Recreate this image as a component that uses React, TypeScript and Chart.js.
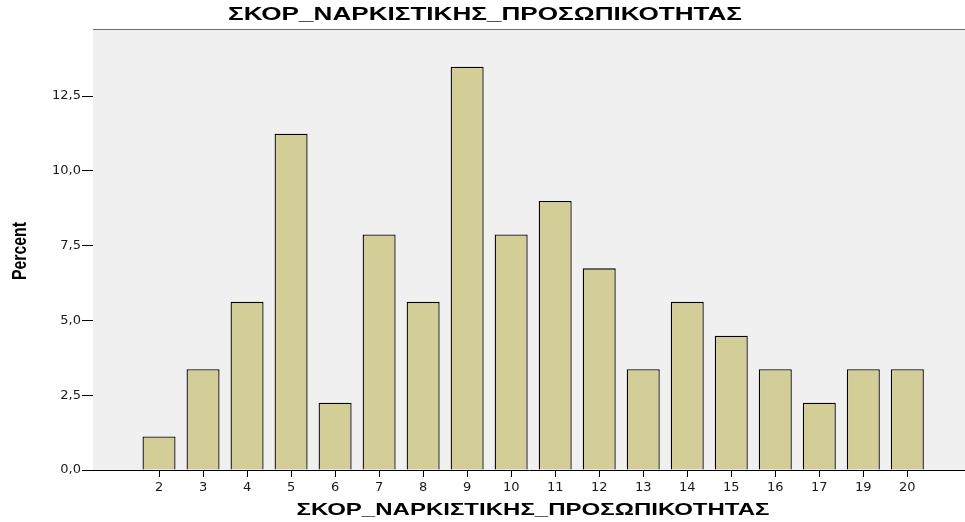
import React, { useEffect, useRef } from "react";
import { Chart, registerables } from "chart.js";

Chart.register(...registerables);

const categories = ["2", "3", "4", "5", "6", "7", "8", "9", "10", "11", "12", "13", "14", "15", "16", "17", "19", "20"];
const percentValues = [1.12, 3.37, 5.62, 11.24, 2.25, 7.87, 5.62, 13.48, 7.87, 8.99, 6.74, 3.37, 5.62, 4.49, 3.37, 2.25, 3.37, 3.37];
const yTicks = [0, 2.5, 5, 7.5, 10, 12.5];
const titleText = "ΣΚΟΡ_ΝΑΡΚΙΣΤΙΚΗΣ_ΠΡΟΣΩΠΙΚΟΤΗΤΑΣ";
const xTitle = "ΣΚΟΡ_ΝΑΡΚΙΣΤΙΚΗΣ_ΠΡΟΣΩΠΙΚΟΤΗΤΑΣ";
const yTitle = "Percent";

const FONT = "'Liberation Sans', Arial, sans-serif";
const TICK_FONT = "'DejaVu Sans', 'Liberation Sans', sans-serif";

function drawStretched(ctx: any, text: string, cx: number, cy: number, size: number, targetW: number, rotate: boolean) {
  ctx.save();
  ctx.font = `bold ${size}px ${FONT}`;
  ctx.fillStyle = "#000";
  ctx.textAlign = "center";
  ctx.textBaseline = "middle";
  const w = ctx.measureText(text).width;
  ctx.translate(cx, cy);
  if (rotate) ctx.rotate(-Math.PI / 2);
  ctx.scale(targetW / w, 1);
  ctx.fillText(text, 0, 0);
  ctx.restore();
}

const decorations = {
  id: "decorations",
  beforeDatasetsDraw(chart: any) {
    const { ctx, chartArea } = chart;
    ctx.save();
    ctx.fillStyle = "#f0f0f0";
    ctx.fillRect(chartArea.left, chartArea.top, chartArea.right - chartArea.left, chartArea.bottom - chartArea.top);
    ctx.strokeStyle = "#6e6e6e";
    ctx.lineWidth = 1;
    ctx.beginPath();
    ctx.moveTo(chartArea.left, chartArea.top + 0.5);
    ctx.lineTo(chartArea.right, chartArea.top + 0.5);
    ctx.stroke();
    ctx.restore();
  },
  afterDraw(chart: any) {
    const { ctx } = chart;
    drawStretched(ctx, titleText, 485, 15, 18, 514, false);
    drawStretched(ctx, xTitle, 533, 510, 17, 473, false);
    drawStretched(ctx, yTitle, 20, 251, 20, 58, true);
  },
};

export default function App() {
  const ref = useRef<HTMLCanvasElement>(null);
  useEffect(() => {
    if (!ref.current) return;
    const chart = new Chart(ref.current, {
      type: "bar",
      data: {
        datasets: [
          {
            data: percentValues.map((v, i) => ({ x: i, y: v })),
            backgroundColor: "#d3ce98",
            borderColor: "#000000",
            borderWidth: 1.3,
            barPercentage: 0.75,
            categoryPercentage: 1,
          },
        ],
      },
      options: {
        responsive: false,
        animation: false,
        devicePixelRatio: 1,
        layout: { padding: { left: 0, right: 0, top: 29, bottom: 0 } },
        plugins: {
          legend: { display: false },
          tooltip: { enabled: false },
          title: { display: false },
        },
        scales: {
          x: {
            type: "linear",
            offset: false,
            min: -1.5,
            max: 18.31,
            afterBuildTicks: (scale: any) => {
              scale.ticks = categories.map((_, i) => ({ value: i }));
            },
            afterFit: (scale: any) => {
              scale.height = 52;
            },
            ticks: {
              autoSkip: false,
              maxRotation: 0,
              color: "#1a1a1a",
              padding: 3,
              font: { family: TICK_FONT, size: 13 },
              callback: (v: any) => categories[v] ?? "",
            },
            grid: { offset: false, drawOnChartArea: false, drawTicks: true, tickLength: 7, color: "#000" },
            border: { display: true, color: "#000", width: 1 },
          },
          y: {
            type: "linear",
            min: 0,
            max: 14.74,
            afterBuildTicks: (scale: any) => {
              scale.ticks = yTicks.map((v) => ({ value: v }));
            },
            afterFit: (scale: any) => {
              scale.width = 93;
            },
            ticks: {
              color: "#1a1a1a",
              padding: 1,
              font: { family: TICK_FONT, size: 13 },
              callback: (v: any) => Number(v).toFixed(1).replace(".", ","),
            },
            grid: { drawOnChartArea: false, drawTicks: true, tickLength: 11, color: "#000" },
            border: { display: true, color: "#000", width: 1 },
          },
        },
      },
      plugins: [decorations],
    } as any);
    return () => chart.destroy();
  }, []);
  return (
    <div style={{ position: "absolute", left: 0, top: 0, width: 965, height: 522, background: "#fff" }}>
      <canvas ref={ref} width={965} height={522} style={{ display: "block" }} />
    </div>
  );
}
